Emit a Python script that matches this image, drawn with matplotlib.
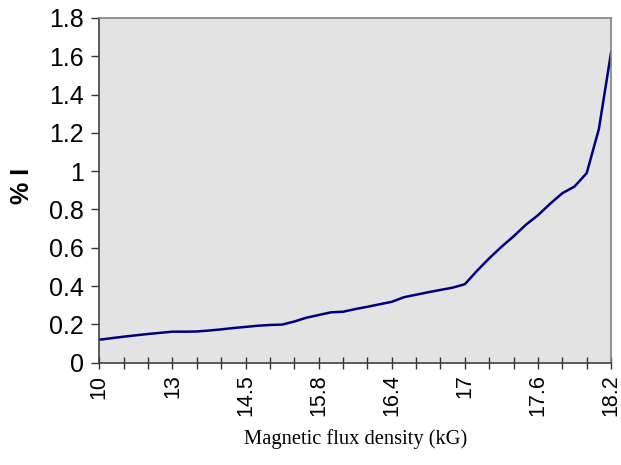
import matplotlib
matplotlib.use("Agg")
import matplotlib.pyplot as plt
import numpy as np

# Category-axis data (half-tick resolution)
values = [0.12, 0.128, 0.136, 0.143, 0.15, 0.156, 0.162, 0.162, 0.163, 0.168,
          0.174, 0.181, 0.187, 0.193, 0.197, 0.199, 0.215, 0.235, 0.249, 0.263,
          0.266, 0.28, 0.292, 0.305, 0.318, 0.342, 0.355, 0.368, 0.38, 0.392,
          0.41, 0.48, 0.545, 0.605, 0.66, 0.72, 0.77, 0.83, 0.885, 0.92,
          0.99, 1.22, 1.62]
tick_labels = ["10", "13", "14.5", "15.8", "16.4", "17", "17.6", "18.2"]
y_ticks = [0, 0.2, 0.4, 0.6, 0.8, 1, 1.2, 1.4, 1.6, 1.8]
y_ticklabels = ["0", "0.2", "0.4", "0.6", "0.8", "1", "1.2", "1.4", "1.6", "1.8"]

fig = plt.figure(figsize=(6.21, 4.65), dpi=100)
ax = fig.add_axes([0.16, 0.22, 0.824, 0.7413])
ax.set_facecolor("#E3E3E3")

x = np.arange(len(values)) / 2.0
ax.plot(x, values, color="#00007F", lw=1.8, solid_joinstyle="round")

n_ticks = int(x[-1]) + 1
ax.set_xlim(0, x[-1])
ax.set_ylim(0, 1.8)
ax.set_xticks(np.arange(0, n_ticks, 3))
ax.set_xticklabels(tick_labels, rotation=90, fontsize=15.5, family="Liberation Sans")
ax.set_xticks(np.arange(0, n_ticks), minor=True)
ax.set_yticks(y_ticks)
ax.set_yticklabels(y_ticklabels, fontsize=18, family="Liberation Sans")

ax.tick_params(axis="x", which="both", direction="inout", length=9, width=1, color="#333333", pad=4)
ax.tick_params(axis="y", direction="out", length=6, width=1, color="#333333", pad=5)

for s in ["left", "bottom"]:
    ax.spines[s].set_color("#404040")
    ax.spines[s].set_linewidth(1.2)
for s in ["top", "right"]:
    ax.spines[s].set_color("#808080")
    ax.spines[s].set_linewidth(1.2)

ax.set_xlabel("Magnetic flux density (kG)", family="Liberation Serif", fontsize=14.8, labelpad=9)
fig.text(0.036, 0.6, "% I", rotation=90, fontsize=18, fontweight="bold",
         family="Liberation Sans", ha="center", va="center")

fig.savefig("out.png", dpi=100)
